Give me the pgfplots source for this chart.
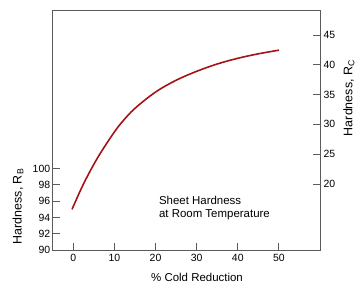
\documentclass[border=0pt]{standalone}
\usepackage{pgfplots}
\pgfplotsset{compat=1.18}
\usepackage{fontspec}
\setmainfont{Liberation Sans}
\definecolor{curvered}{RGB}{165,18,22}
\definecolor{axgray}{RGB}{90,90,90}
\begin{document}
\begin{tikzpicture}
\useasboundingbox (-52.7bp,-34bp) rectangle (304.3bp,250bp);
\begin{axis}[
  at={(0,0)}, anchor=south west,
  scale only axis, width=267.3bp, height=239.3bp,
  xmin=-5, xmax=60, ymin=90, ymax=119.4,
  xtick={0,10,20,30,40,50}, ytick={90,92,94,96,98,100},
  tick align=inside, xtick pos=bottom, ytick pos=left,
  major tick length=7bp,
  axis line style={axgray, line width=0.9pt},
  every tick/.style={axgray, line width=0.8pt},
  /pgf/number format/assume math mode=true,
  tick label style={font=\fontsize{10.5}{12}\selectfont},
  yticklabel style={xshift=1bp},
  xticklabel style={yshift=-0.5bp},
  xlabel={\% Cold Reduction},
  xlabel style={at={(axis description cs:0.54,-0.113)}, anchor=center, font=\fontsize{11.5}{13}\selectfont},
  ylabel={Hardness, R\textsubscript{B}},
  ylabel style={at={(rel axis cs:-0.13,0.182)}, anchor=center, rotate=0, font=\fontsize{12.5}{14}\selectfont},
  clip=false,
]
\addplot[curvered, line width=1.6pt, smooth, tension=0.6] coordinates {
(-0.3,95.0) (2,97.6) (4,99.6) (6,101.4) (8,103.0) (10,104.5) (12,105.8) (15,107.4) (20,109.4) (25,110.85) (30,111.95) (35,112.85) (40,113.55) (45,114.1) (50,114.55)
};
\node[anchor=west, align=left, font=\fontsize{11.5}{13}\selectfont] at (axis cs:20.0,95.2) {Sheet Hardness\\at Room Temperature};
\end{axis}
\begin{axis}[
  at={(0,0)}, anchor=south west,
  scale only axis, width=267.3bp, height=239.3bp,
  xmin=-5, xmax=60, ymin=8.9, ymax=49.1,
  axis x line=none, axis y line*=right,
  ytick={20,25,30,35,40,45},
  tick align=inside,
  major tick length=7bp,
  axis line style={axgray, line width=0.9pt},
  every tick/.style={axgray, line width=0.8pt},
  /pgf/number format/assume math mode=true,
  tick label style={font=\fontsize{10.5}{12}\selectfont},
  ylabel={Hardness, R\textsubscript{C}},
  ylabel style={at={(rel axis cs:1.108,0.635)}, anchor=center, rotate=0, font=\fontsize{12.5}{14}\selectfont},
  clip=false,
]
\end{axis}
\end{tikzpicture}
\end{document}
